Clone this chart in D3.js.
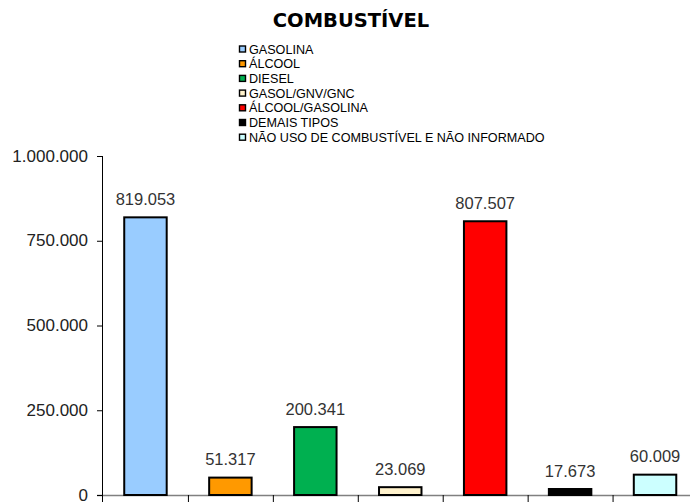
<!DOCTYPE html>
<html>
<head>
<meta charset="utf-8">
<script src="https://cdn.jsdelivr.net/npm/d3@7"></script>
<style>
    body { margin: 0; background: #fff; }
    svg { display: block; }
</style>
</head>
<body>
<div id="graph"></div>
<script>
var categories = ['GASOLINA', 'ÁLCOOL', 'DIESEL', 'GASOL/GNV/GNC', 'ÁLCOOL/GASOLINA', 'DEMAIS TIPOS', 'NÃO USO DE COMBUSTÍVEL E NÃO INFORMADO'];
var values = [819053, 51317, 200341, 23069, 807507, 17673, 60009];
var colors = ['#99ccff', '#ff9900', '#00b050', '#fff2cc', '#ff0000', '#000000', '#ccffff'];
var yTicks = [0, 250000, 500000, 750000, 1000000];

function chart() {
    var width = 690,
        height = 502;

    var fmt = d3.formatLocale({ decimal: ',', thousands: '.', grouping: [3], currency: ['R$', ''] }).format(',d');

    var svg = d3.select('#graph')
        .append('svg')
            .attr('width', width)
            .attr('height', height);

    // title
    svg.append('text')
        .attr('x', 351)
        .attr('y', 27)
        .attr('text-anchor', 'middle')
        .style('font-family', 'DejaVu Sans, Verdana, sans-serif')
        .style('font-weight', 'bold')
        .style('font-size', '19.5px')
        .style('fill', '#000')
        .text('COMBUSTÍVEL');

    // legend
    var legend = svg.append('g')
        .attr('transform', 'translate(239,49)');
    var rows = legend.selectAll('g')
        .data(categories)
        .enter().append('g')
        .attr('transform', function(d, i) { return 'translate(0,' + (i * 14.7) + ')'; });
    rows.append('rect')
        .attr('x', 0.5)
        .attr('y', -3)
        .attr('width', 6)
        .attr('height', 6)
        .style('fill', function(d, i) { return colors[i]; })
        .style('stroke', '#000')
        .style('stroke-width', 1.4);
    rows.append('text')
        .attr('x', 10)
        .attr('y', 0)
        .attr('dy', '0.36em')
        .style('font-family', 'Liberation Sans, Arial, sans-serif')
        .style('font-size', '12.6px')
        .style('fill', '#000')
        .text(function(d) { return d; });

    var x = d3.scaleBand()
        .domain(categories)
        .range([103, 697.5])
        .padding(0);

    var y = d3.scaleLinear()
        .domain([0, 1000000])
        .range([495, 156]);

    // x axis line and category ticks
    svg.append('line')
        .attr('x1', 97)
        .attr('x2', width)
        .attr('y1', y(0) + 0.5)
        .attr('y2', y(0) + 0.5)
        .style('stroke', '#808080')
        .style('stroke-width', 1.3);
    svg.append('g')
        .selectAll('line')
        .data(categories.slice(1))
        .enter().append('line')
        .attr('x1', function(d) { return x(d) + 0.5; })
        .attr('x2', function(d) { return x(d) + 0.5; })
        .attr('y1', y(0))
        .attr('y2', y(0) + 9)
        .style('stroke', '#000')
        .style('stroke-width', 1);

    // y axis
    var yAxis = svg.append('g')
        .attr('transform', 'translate(102,0)')
        .call(d3.axisLeft(y).tickValues(yTicks).tickSize(5).tickPadding(9).tickFormat(fmt));
    yAxis.select('.domain').remove();
    yAxis.append('line')
        .attr('x1', 0.5)
        .attr('x2', 0.5)
        .attr('y1', y(1000000))
        .attr('y2', y(0) + 9)
        .style('stroke', '#000');
    yAxis.selectAll('.tick line')
        .style('stroke', '#000');
    yAxis.selectAll('.tick text')
        .attr('dy', '0.3em')
        .style('font-family', 'Liberation Sans, Arial, sans-serif')
        .style('font-size', '17px')
        .style('fill', '#222');

    // bars
    var barW = x.bandwidth() * 0.5;
    svg.append('g')
        .selectAll('rect')
        .data(values)
        .enter().append('rect')
        .attr('x', function(d, i) { return x(categories[i]) + x.bandwidth() / 2 - barW / 2; })
        .attr('y', function(d) { return y(d); })
        .attr('width', barW)
        .attr('height', function(d) { return y(0) - y(d); })
        .style('fill', function(d, i) { return colors[i]; })
        .style('stroke', '#000')
        .style('stroke-width', 2);

    // value labels
    svg.append('g')
        .selectAll('text')
        .data(values)
        .enter().append('text')
        .attr('x', function(d, i) { return x(categories[i]) + x.bandwidth() / 2; })
        .attr('y', function(d) { return y(d) - 12.5; })
        .attr('text-anchor', 'middle')
        .style('font-family', 'Liberation Sans, Arial, sans-serif')
        .style('font-size', '16.5px')
        .style('fill', '#333')
        .text(function(d) { return fmt(d); });
}

chart();
</script>
</body>
</html>
